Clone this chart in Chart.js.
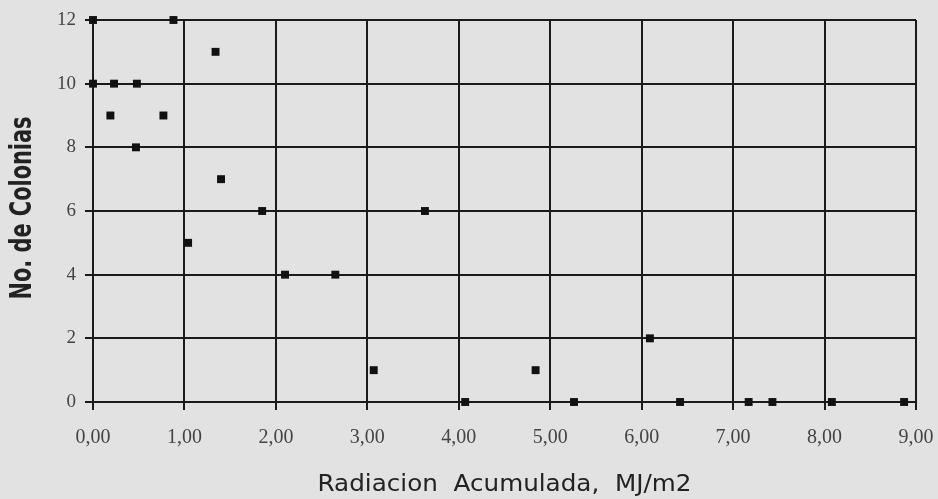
<!DOCTYPE html>
<html>
<head>
<meta charset="utf-8">
<script src="https://cdn.jsdelivr.net/npm/chart.js@4"></script>
<style>
  html, body { margin: 0; padding: 0; background: #e2e2e2; }
  #wrap { width: 938px; height: 499px; }
</style>
</head>
<body>
<div id="wrap"><canvas id="chart" width="938" height="499"></canvas></div>
<script>
// data
const radiacion = [0.00, 0.88, 1.34, 0.00, 0.23, 0.48, 0.19, 0.77, 0.47, 1.40, 1.85, 3.63, 1.04,
  2.10, 2.65, 3.07, 4.07, 4.84, 5.26, 6.09, 6.42, 7.17, 7.43, 8.08, 8.87];
const colonias = [12, 12, 11, 10, 10, 10, 9, 9, 8, 7, 6, 6, 5,
  4, 4, 1, 0, 1, 0, 2, 0, 0, 0, 0, 0];
const xTickLabels = ['0,00', '1,00', '2,00', '3,00', '4,00', '5,00', '6,00', '7,00', '8,00', '9,00'];
const yTickLabels = ['0', '2', '4', '6', '8', '10', '12'];
const xTitle = 'Radiacion  Acumulada,  MJ/m2';
const yTitle = 'No. de Colonias';

const points = radiacion.map((x, i) => ({ x, y: colonias[i] }));

// grey scanned paper
const paper = {
  id: 'paper',
  beforeDraw(chart) {
    const { ctx, width, height } = chart;
    ctx.save();
    ctx.fillStyle = '#e2e2e2';
    ctx.fillRect(0, 0, width, height);
    ctx.restore();
  }
};

// axis titles, drawn by hand so they sit where the scan has them
const titles = {
  id: 'titles',
  afterDraw(chart) {
    const { ctx, chartArea } = chart;
    ctx.save();
    ctx.fillStyle = '#222';
    ctx.textAlign = 'center';
    ctx.textBaseline = 'middle';

    ctx.save();
    ctx.font = '23px "DejaVu Sans"';
    const wx = ctx.measureText(xTitle).width;
    ctx.translate((chartArea.left + chartArea.right) / 2, 485);
    ctx.scale(374 / wx, 1);
    ctx.fillText(xTitle, 0, 0);
    ctx.restore();

    // tall condensed bold face in the scan
    ctx.font = 'bold 30px "DejaVu Sans Condensed", "DejaVu Sans"';
    const w = ctx.measureText(yTitle).width;
    ctx.translate(23, 208);
    ctx.rotate(-Math.PI / 2);
    ctx.scale(183 / w, 1);
    ctx.fillText(yTitle, 0, 0);
    ctx.restore();
  }
};

const ctx = document.getElementById('chart').getContext('2d');
new Chart(ctx, {
  type: 'scatter',
  data: {
    datasets: [{
      data: points,
      pointStyle: 'rect',
      pointRadius: 5.6,
      pointHoverRadius: 5.6,
      backgroundColor: '#111',
      borderColor: '#111',
      borderWidth: 0,
      clip: false
    }]
  },
  options: {
    responsive: false,
    animation: false,
    layout: { padding: { top: 20, right: 22, left: 0, bottom: 0 } },
    plugins: { legend: { display: false }, tooltip: { enabled: false } },
    scales: {
      x: {
        type: 'linear',
        min: 0,
        max: 9,
        afterFit: s => { s.height = 97; s.paddingLeft = 0; s.paddingRight = 0; },
        border: { display: false },
        grid: { color: '#1a1a1a', lineWidth: 2, tickLength: 8 },
        ticks: {
          stepSize: 1,
          padding: 16,
          color: '#444',
          font: { family: '"Liberation Serif", serif', size: 20 },
          callback: (v, i) => xTickLabels[i]
        }
      },
      y: {
        min: 0,
        max: 12,
        afterFit: s => { s.width = 93; s.paddingTop = 0; s.paddingBottom = 0; },
        border: { display: false },
        grid: { color: '#1a1a1a', lineWidth: 2, tickLength: 8 },
        ticks: {
          stepSize: 2,
          padding: 9,
          color: '#444',
          font: { family: '"Liberation Serif", serif', size: 19 },
          callback: (v, i) => yTickLabels[i]
        }
      }
    }
  },
  plugins: [paper, titles]
});
</script>
</body>
</html>
